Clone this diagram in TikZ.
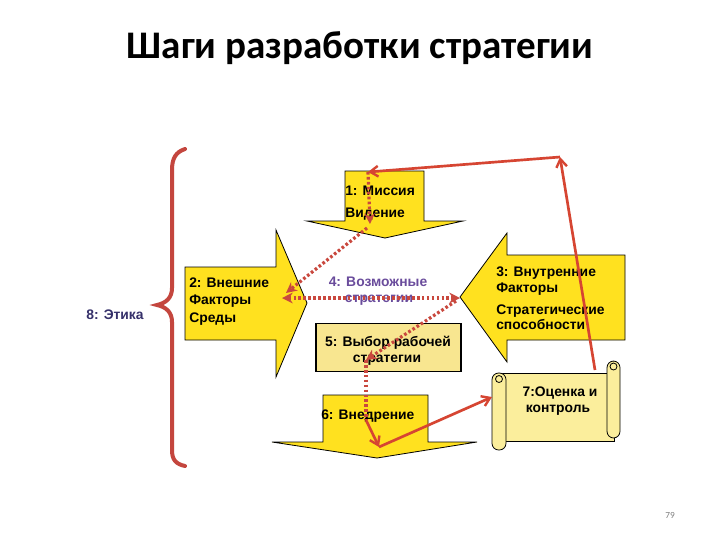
\documentclass[tikz,border=0pt]{standalone}
\usepackage{fontspec}
\setmainfont{Liberation Sans}[BoldFont={Liberation Sans Bold}]
\newfontfamily\lbfont{Liberation Sans}[UprightFont={* Bold}]
\newfontfamily\titlefont{Carlito Bold}
\newfontfamily\pagefont{Carlito}
\usetikzlibrary{arrows.meta}
\definecolor{ylw}{HTML}{FFE11F}
\definecolor{lyl}{HTML}{F8E690}
\definecolor{scr}{HTML}{FBEE9C}
\definecolor{rd}{HTML}{D64532}
\definecolor{drd}{HTML}{C9483E}
\definecolor{brc}{HTML}{C4463E}
\definecolor{prp}{HTML}{6A4C9C}
\definecolor{ink}{HTML}{35306A}
\tikzset{
  bigarrow/.style={fill=ylw, draw=black, line width=0.6pt, line join=miter},
  lbl/.style={anchor=base west, inner sep=0pt, font=\lbfont\fontsize{10.4}{12}\selectfont},
  clbl/.style={anchor=base, inner sep=0pt, font=\lbfont\fontsize{10.4}{12}\selectfont},
  solidlink/.style={draw=rd, line width=2pt, -{Straight Barb[length=6pt,width=8pt,line width=1.8pt]}},
  dotlink/.style={draw=drd, line width=2.4pt, dash pattern={on 2pt off 1.7pt}, -{Stealth[length=8pt,width=8pt]}},
  dotline/.style={draw=drd, line width=2.4pt, dash pattern={on 2pt off 1.7pt}},
}
\begin{document}
\begin{tikzpicture}[x=0.75pt,y=-0.75pt]
\useasboundingbox (0,0) rectangle (720,540);
\fill[white] (0,0) rectangle (720,540);

% title
\node[anchor=base, inner sep=0pt, font=\titlefont\fontsize{29.3}{32}\selectfont] (title) at (360,58) {Шаги разработки стратегии};

% brace
\draw[brc, line width=3pt, line cap=round]
  (185,149) .. controls (176,152) and (172,158) .. (172,170)
  -- (172,288) .. controls (172,298) and (166,303) .. (157,305)
  .. controls (166,307) and (172,312) .. (172,322)
  -- (172,450) .. controls (172,460) and (176,464) .. (185,466);
\node[anchor=base, inner sep=0pt, text=ink, font=\lbfont\fontsize{10.4}{12}\selectfont] (ethics) at (115,319) {8: Этика};

% arrow 1 (down)
\draw[bigarrow] (345,171) -- (424,171) -- (424,221) -- (463,221) -- (385,238) -- (307,221) -- (345,221) -- cycle;
% arrow 2 (right)
\draw[bigarrow] (185,267) -- (276,267) -- (276,230) -- (307,303) -- (276,377) -- (276,340) -- (185,340) -- cycle;
% arrow 3 (left)
\draw[bigarrow] (625,255) -- (507,255) -- (507,233) -- (460,297) -- (507,362) -- (507,340) -- (625,340) -- cycle;
% arrow 6 (down)
\draw[bigarrow] (323,395) -- (428,395) -- (428,442) -- (477,442) -- (377,458) -- (272,442) -- (323,442) -- cycle;

% box 5
\node[draw=black, line width=0.8pt, fill=lyl, minimum width=145*0.75pt, minimum height=48*0.75pt, inner sep=0pt] (box5) at (388.5,347.5) {};

% scroll 7
\fill[scr, draw=black, line width=0.6pt] (499,373) rectangle (614,441);
\draw[fill=scr, draw=black, line width=0.6pt, rounded corners=5pt] (607,361) rectangle (620,438);
\draw[fill=scr, draw=black, line width=0.6pt] (613.5,366.5) circle (3.5);
\draw[fill=scr, draw=black, line width=0.6pt, rounded corners=5pt] (492,373) rectangle (506,450);
\draw[fill=scr, draw=black, line width=0.6pt] (499,379) circle (3.5);
\node[inner sep=0pt, minimum width=100pt] (scroll) at (556,408) {};

% labels
\node[lbl] (l1a) at (345,195) {1: Миссия};
\node[lbl] (l1b) at (345,217) {Видение};
\node[lbl] (l2a) at (189,287) {2: Внешние};
\node[lbl] (l2b) at (189,304.5) {Факторы};
\node[lbl] (l2c) at (189,322) {Среды};
\node[lbl] (l3a) at (496,276) {3: Внутренние};
\node[lbl] (l3b) at (496,292) {Факторы};
\node[lbl] (l3c) at (496,314) {Стратегические};
\node[lbl] (l3d) at (496,329.5) {способности};
\node[clbl, text=prp] (l4a) at (378,286) {4: Возможные};
\node[clbl, text=prp] (l4b) at (379,302) {стратегии};
\node[clbl] (l5a) at (388,346) {5: Выбор рабочей};
\node[clbl] (l5b) at (387,362) {стратегии};
\node[lbl] (l6) at (321,419) {6: Внедрение};
\node[clbl] (l7a) at (560,396) {7:Оценка и};
\node[clbl] (l7b) at (558,412) {контроль};

% page number
\node[anchor=base, inner sep=0pt, text=gray, font=\pagefont\fontsize{7}{8}\selectfont] (page) at (670,518) {79};

% connector points
\coordinate (s7) at (595,370);
\coordinate (tr) at (560,157);
\coordinate (m1) at (368,172);
\coordinate (d1) at (370,224);
\coordinate (d1s) at (367,228);
\coordinate (e2) at (286,293);
\coordinate (h2) at (282,298);
\coordinate (h3) at (460,298);
\coordinate (h3s) at (456,301);
\coordinate (c5) at (366,360);
\coordinate (c6) at (366,420);
\coordinate (b6) at (379,447);
\coordinate (w7) at (492,397);

% solid connectors
\draw[solidlink] (s7) -- (tr);
\draw[solidlink] (tr) -- (m1);
\draw[solidlink] (c6) -- (b6);
\draw[solidlink] (b6) -- (w7);

% dotted connectors
\draw[dotlink] (m1) -- (d1);
\draw[dotlink] (d1s) -- (e2);
\draw[dotlink, {Stealth[length=8pt,width=8pt]}-{Stealth[length=8pt,width=8pt]}] (h2) -- (h3);
\draw[dotlink] (h3s) -- (c5);
\draw[dotline] (c5) -- (c6);
\end{tikzpicture}
\end{document}
